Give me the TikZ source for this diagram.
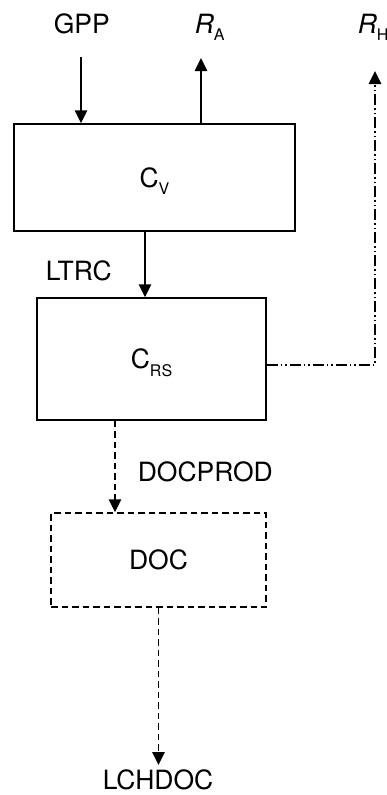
\documentclass[tikz,border=0pt]{standalone}
\usepackage{fontspec}
\setmainfont{TeX Gyre Heros}
\usetikzlibrary{arrows.meta}

\newcommand{\lowsub}[1]{\raisebox{-7.5pt}{\fontsize{16}{16}\selectfont #1}}

\begin{document}
\begin{tikzpicture}[x=1pt, y=-1pt, line width=1.5pt,
    >={Triangle[width=12.5pt,length=13pt]},
    box/.style={draw, inner sep=0pt, text depth=0pt, font=\fontsize{26.5}{30}\selectfont},
    dashbox/.style={box, dash pattern=on 6.5pt off 4pt},
    txt/.style={anchor=base west, inner sep=0pt, font=\fontsize{26.5}{30}\selectfont},
    flow/.style={->},
    dashflow/.style={->, dash pattern=on 6.5pt off 4pt},
    dotflow/.style={->, dash pattern=on 11pt off 3pt on 1.5pt off 3pt on 1.5pt off 3pt}]
    % --- 页面范围 ---
    \useasboundingbox (0,0) rectangle (387,795);

    % --- 1. 三个方框 ---
    \node[box, minimum width=281, minimum height=107] (cv) at (154.5,177.5) {C\lowsub{V}};
    \node[box, minimum width=229, minimum height=122] (crs) at (151.5,359) {C\lowsub{RS}};
    \node[dashbox, minimum width=215, minimum height=94] (doc) at (158.5,560) {DOC};

    % --- 2. 通量标注 ---
    \node[txt] (gpp) at (53,33) {GPP};
    \node[txt] (ra) at (194,33) {\itshape R\lowsub{\upshape A}};
    \node[txt] (rh) at (357,33) {\itshape R\lowsub{\upshape H}};
    \node[txt] (ltrc) at (45,280) {LTRC};
    \node[txt] (docprod) at (137,481) {DOCPROD};
    \node[txt] (lchdoc) at (102,789) {LCHDOC};

    % 箭头自由端
    \coordinate (gppin) at (81,57);
    \coordinate (raout) at (201,58);
    \coordinate (rhout) at (375,71);
    \coordinate (ltrcx) at (145,0);
    \coordinate (prodx) at (115,0);
    \coordinate (lchin) at (158.5,765);

    % --- 3. 箭头 ---
    \draw[flow] (gppin) -- (gppin |- cv.north);
    \draw[flow] (raout |- cv.north) -- (raout);
    \draw[flow] (cv.south -| ltrcx) -- (crs.north -| ltrcx);
    \draw[dotflow] ([yshift=-6pt]crs.east) -| (rhout);
    \draw[dashflow] (crs.south -| prodx) -- (doc.north -| prodx);
    \draw[dashflow] (doc.south) -- (lchin);

\end{tikzpicture}
\end{document}
